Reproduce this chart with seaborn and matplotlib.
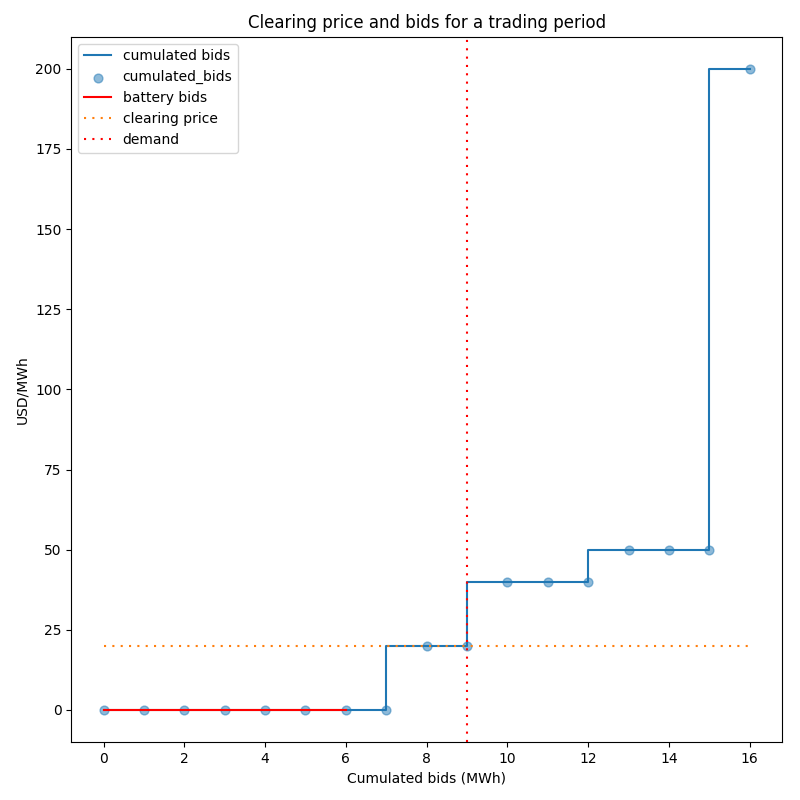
import matplotlib
matplotlib.use("Agg")
import matplotlib.pyplot as plt
import seaborn as sns
import numpy as np

quantity = [0, 1, 2, 3, 4, 5, 6, 7, 8, 9, 10, 11, 12, 13, 14, 15, 16]
price = [0, 0, 0, 0, 0, 0, 0, 0, 20, 20, 40, 40, 40, 50, 50, 50, 200]
battery_q = [0, 1, 2, 3, 4, 5, 6]
battery_p = [0, 0, 0, 0, 0, 0, 0]
clearing_price = 20
demand = 9

fig, ax = plt.subplots(figsize=(8, 8), dpi=100)

dotted = (0, (1, 3))
sns.lineplot(x=quantity, y=price, drawstyle="steps-pre", color="C0",
             label="cumulated bids", ax=ax)
sns.scatterplot(x=quantity, y=price, color="C0", alpha=0.5, s=40,
                edgecolor="C0", linewidth=1, label="cumulated_bids", ax=ax)
sns.lineplot(x=battery_q, y=battery_p, color="red", label="battery bids", ax=ax)
sns.lineplot(x=[quantity[0], quantity[-1]], y=[clearing_price, clearing_price],
             color="C1", linestyle=dotted, label="clearing price", ax=ax)
ax.axvline(demand, color="red", linestyle=dotted, label="demand")

ax.set_title("Clearing price and bids for a trading period")
ax.set_xlabel("Cumulated bids (MWh)")
ax.set_ylabel("USD/MWh")
ax.set_ylim(-10, 210)
ax.legend(loc="upper left")

fig.subplots_adjust(left=0.089, right=0.9775, top=0.954, bottom=0.0725)
fig.savefig("out.png")
